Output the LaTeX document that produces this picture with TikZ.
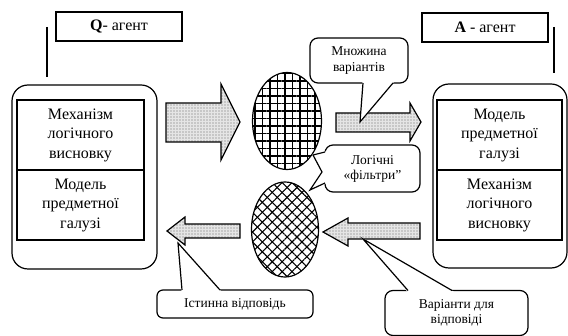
\documentclass[tikz,border=0pt]{standalone}
\usepackage{fontspec}
\setmainfont{Liberation Serif}
\usetikzlibrary{calc,positioning,shapes,patterns.meta}
\tikzset{
    agent/.style={
    rectangle,draw=black,line width=1.2pt,minimum width=126pt,minimum height=29pt,font=\fontsize{16}{18}\selectfont
    },
    holder/.style={
    rectangle,rounded corners=16pt,draw=black,line width=1.2pt
    },
    part/.style={rectangle, draw=black, line width=1.2pt, minimum width=127pt, minimum height=70pt, align=center, font=\fontsize{16}{19.5}\selectfont},
    note/.style={rectangle, draw=black, line width=1.2pt, rounded corners=8pt, fill=white, align=center, font=\fontsize{13.5}{16}\selectfont},
    blockarr/.style={draw=black, line width=1.2pt, preaction={fill=black!10}, pattern={Dots[distance=3pt,radius=0.55pt]}, pattern color=black!60},
    filtgrid/.style={ellipse, draw=black, line width=1.2pt, preaction={pattern={Lines[angle=0,distance=7.5pt,line width=1.2pt]}}, pattern={Lines[angle=90,distance=7.5pt,line width=1.2pt]}},
    filtcross/.style={ellipse, draw=black, line width=1.2pt, preaction={pattern={Lines[angle=45,distance=7pt,line width=1.1pt]}}, pattern={Lines[angle=-45,distance=7pt,line width=1.1pt]}},
    ptr/.style={draw=black, line width=1.2pt}
}
\begin{document}
\begin{tikzpicture}[x=1pt,y=-1pt]
    \useasboundingbox (0,0) rectangle (568,336);

    % agents
    \node[agent] (qag) at (119,26.5) {{\bfseries Q}- агент};
    \node[agent] (aag) at (485,27.5) {{\bfseries A} - агент};

    \node[holder,minimum width=145pt,minimum height=184pt] (qhold) at (84.5,177) {};
    \node[holder,minimum width=134pt,minimum height=184pt] (ahold) at (500,176) {};

    \node[part] (qmech) at (80.5,135) {Механізм\\логічного\\висновку};
    \node[part] (qmod) at (80.5,205) {Модель\\предметної\\галузі};
    \node[part,minimum width=125pt] (amod) at (499.5,135) {Модель\\предметної\\галузі};
    \node[part,minimum width=125pt] (amech) at (499.5,205) {Механізм\\логічного\\висновку};

    \coordinate (qa) at (47,27);
    \coordinate (qb) at (47,77);
    \coordinate (aa) at (554,27);
    \coordinate (ab) at (554,73);
    \draw[line width=1.2pt] (qa) -- (qb);
    \draw[line width=1.2pt] (aa) -- (ab);

    % filters
    \node[filtgrid,minimum width=69pt,minimum height=97pt] (fgrid) at (287,121) {};
    \node[filtcross,minimum width=67pt,minimum height=95pt] (fcross) at (285,229.5) {};

    % block arrows
    \draw[blockarr] (166,103) -- (221,103) -- (221,84) -- (240,122) -- (221,160) -- (221,142) -- (166,142) -- cycle;
    \draw[blockarr] (336,113) -- (410,113) -- (410,103) -- (421,122) -- (410,141) -- (410,132) -- (336,132) -- cycle;
    \draw[blockarr] (240,224) -- (185,224) -- (185,217) -- (167,231) -- (185,245) -- (185,238) -- (240,238) -- cycle;
    \draw[blockarr] (420,223) -- (348,223) -- (348,218) -- (323,232) -- (348,246) -- (348,239) -- (420,239) -- cycle;

    \coordinate (tipset) at (360,122);
    \coordinate (tiptrue) at (178,243);
    \coordinate (tipvar) at (363,239);
    \coordinate (tipfa) at (313,155);
    \coordinate (tipfb) at (310,190);

    % callouts
    \node[note,minimum width=98pt,minimum height=45pt] (mnoz) at (359,60.5) {Множина\\варіантів};
    \node[note,minimum width=95pt,minimum height=47pt,font=\fontsize{13.5}{15}\selectfont] (logf) at (372.5,168.5) {Логічні\\«фільтри”};
    \node[note,rounded corners=6pt,minimum width=156pt,minimum height=28pt] (istv) at (235,304) {Істинна відповідь};
    \node[note,minimum width=143pt,minimum height=45pt,font=\fontsize{13.5}{15}\selectfont] (varv) at (456.5,313) {Варіанти для\\відповіді};

    \begin{scope}[every path/.style=ptr]
      \fill[white] ($(mnoz.south)+(4,-1.5)$) -- (tipset) -- ($(mnoz.south)+(34,-1.5)$) -- cycle;
      \draw ($(mnoz.south)+(4,-0.6)$) -- (tipset) -- ($(mnoz.south)+(34,-0.6)$);

      \fill[white] ($(logf.west)+(1.5,-16.5)$) -- (tipfa) -- (322,172) -- (tipfb) -- ($(logf.west)+(1.5,14.5)$) -- cycle;
      \draw ($(logf.west)+(0.6,-16.5)$) -- (tipfa) -- (322,172) -- (tipfb) -- ($(logf.west)+(0.6,14.5)$);

      \fill[white] ($(istv.north)+(-53,1.5)$) -- (tiptrue) -- ($(istv.north)+(-15,1.5)$) -- cycle;
      \draw ($(istv.north)+(-53,0.6)$) -- (tiptrue) -- ($(istv.north)+(-15,0.6)$);

      \fill[white] ($(varv.north)+(-48.5,1.5)$) -- (tipvar) -- ($(varv.north)+(-4.5,1.5)$) -- cycle;
      \draw ($(varv.north)+(-48.5,0.6)$) -- (tipvar) -- ($(varv.north)+(-4.5,0.6)$);
    \end{scope}
\end{tikzpicture}
\end{document}
